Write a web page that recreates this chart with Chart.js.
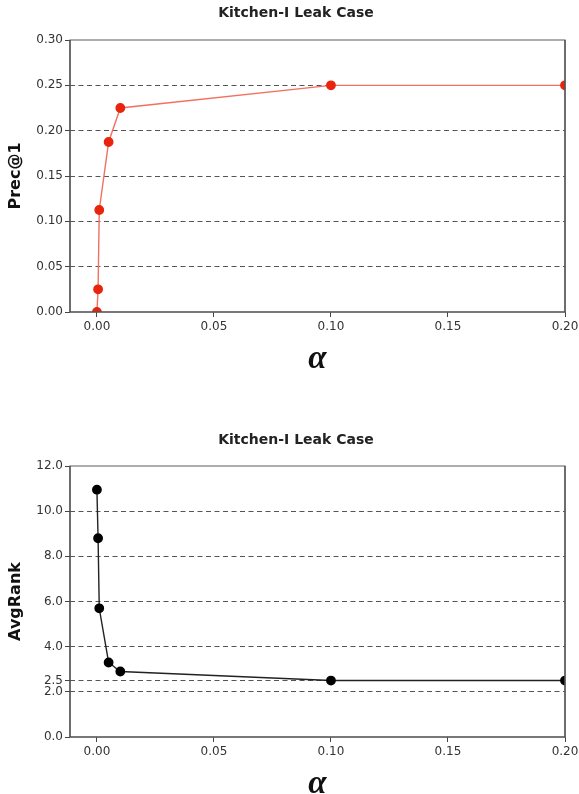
<!DOCTYPE html>
<html>
<head>
<meta charset="utf-8">
<script src="https://cdn.jsdelivr.net/npm/chart.js@4"></script>
<style>
  body { margin: 0; background: #fff; }
  canvas { display: block; }
</style>
</head>
<body>
<canvas id="precChart" width="579" height="397"></canvas>
<canvas id="rankChart" width="579" height="397"></canvas>
<script>
const alpha = [0, 0.0005, 0.001, 0.005, 0.01, 0.1, 0.2];
const prec1 = [0, 0.025, 0.1125, 0.1875, 0.225, 0.25, 0.25];
const avgRank = [10.95, 8.8, 5.7, 3.3, 2.9, 2.5, 2.5];
const xTicks = [0, 0.05, 0.1, 0.15, 0.2];
const precTicks = [0, 0.05, 0.1, 0.15, 0.2, 0.25, 0.3];
const rankTicks = [0, 2, 2.5, 4, 6, 8, 10, 12];

const tickFont = { family: 'DejaVu Sans', size: 12 };
const axisCol = '#444';

// box round the plot, drawn after the lines so edge points look cut
const frame = {
  id: 'frame',
  afterDraw(chart) {
    const a = chart.chartArea, ctx = chart.ctx;
    ctx.save();
    ctx.strokeStyle = '#777';
    ctx.lineWidth = 1.2;
    ctx.strokeRect(a.left, a.top, a.right - a.left, a.bottom - a.top);
    ctx.strokeStyle = axisCol;
    ctx.beginPath();
    ctx.moveTo(a.left, a.top); ctx.lineTo(a.left, a.bottom); ctx.lineTo(a.right, a.bottom);
    ctx.moveTo(a.right, a.top); ctx.lineTo(a.right, a.bottom);
    ctx.stroke();
    ctx.restore();
  }
};

function makeChart(id, opts) {
  const pts = alpha.map((x, i) => ({ x: x, y: opts.values[i] }));
  const last = opts.yTicks.length - 1;
  return new Chart(document.getElementById(id), {
    type: 'line',
    data: {
      datasets: [{
        data: pts,
        borderColor: opts.lineColor,
        borderWidth: 1.4,
        pointBackgroundColor: opts.pointColor,
        pointBorderColor: opts.pointColor,
        pointRadius: 4.2,
        tension: 0
      }]
    },
    options: {
      responsive: false,
      animation: false,
      // left pad shifts the title centre to the right, y axis keeps plot at x=70
      layout: { padding: { left: 27, right: 14, top: 0, bottom: 0 } },
      plugins: {
        legend: { display: false },
        tooltip: { enabled: false },
        title: {
          display: true,
          text: 'Kitchen-I Leak Case',
          color: '#222',
          font: { family: 'DejaVu Sans', size: 14, weight: 'bold', lineHeight: 1.2 },
          padding: opts.titlePad
        }
      },
      scales: {
        x: {
          type: 'linear',
          min: -0.0115,
          max: 0.2,
          afterBuildTicks: s => { s.ticks = xTicks.map(v => ({ value: v })); },
          afterFit: s => { s.height = opts.xHeight; s.paddingRight = 0; s.paddingLeft = 0; },
          border: { display: false },
          grid: { drawOnChartArea: false, drawTicks: true, tickLength: 5, tickColor: axisCol },
          ticks: { font: tickFont, color: '#333', padding: 3, maxRotation: 0,
                   callback: v => v.toFixed(2) },
          title: {
            display: true,
            text: 'α',
            color: '#111',
            font: { family: 'Liberation Serif', size: 33, style: 'italic', weight: 'bold', lineHeight: 0.5625 },
            padding: { top: 0, bottom: opts.alphaPad }
          }
        },
        y: {
          min: opts.yTicks[0],
          max: opts.yTicks[last],
          afterBuildTicks: s => { s.ticks = opts.yTicks.map(v => ({ value: v })); },
          afterFit: s => { s.width = 43; },
          border: { display: false, dash: [5, 3.5] },
          grid: {
            color: c => (c.index === 0 || c.index === last) ? 'rgba(0,0,0,0)' : '#555',
            lineWidth: 1,
            tickLength: 5,
            tickColor: axisCol,
            tickBorderDash: []
          },
          ticks: { font: tickFont, color: '#333', padding: 2,
                   callback: v => v.toFixed(opts.decimals) },
          title: {
            display: true,
            text: opts.yTitle,
            color: '#111',
            font: { family: 'DejaVu Sans', size: 16, weight: 'bold', lineHeight: 1.2 },
            padding: { top: -20.6, bottom: 0 }
          }
        }
      }
    },
    plugins: [frame]
  });
}

makeChart('precChart', {
  values: prec1,
  yTicks: precTicks,
  decimals: 2,
  yTitle: 'Prec@1',
  lineColor: '#f2705f',
  pointColor: '#e8240c',
  titlePad: { top: 5, bottom: 18.2 },
  xHeight: 85,
  alphaPad: 28
});

makeChart('rankChart', {
  values: avgRank,
  yTicks: rankTicks,
  decimals: 1,
  yTitle: 'AvgRank',
  lineColor: '#222',
  pointColor: '#000',
  titlePad: { top: 34.6, bottom: 17.6 },
  xHeight: 57,
  alphaPad: 0
});
</script>
</body>
</html>
